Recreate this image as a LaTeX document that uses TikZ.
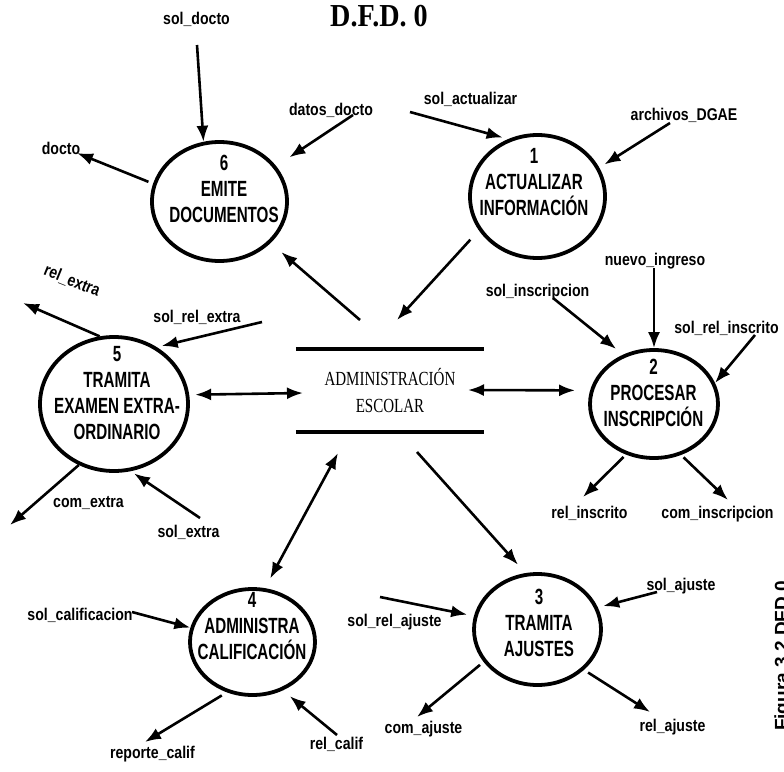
\documentclass[tikz,border=0pt]{standalone}
\usepackage{fontspec}
\usetikzlibrary{arrows.meta,shapes.geometric}

% Condensed faces for the process bubbles, the flow labels and the store
\newfontfamily\procfont[FakeStretch=0.69]{Liberation Sans}
\newfontfamily\flowfont[FakeStretch=0.83]{Liberation Sans}
\newfontfamily\storefont[FakeStretch=0.75]{Liberation Serif}
\newfontfamily\titlefont[FakeStretch=0.88]{Liberation Serif}
\newfontfamily\capfont{Liberation Sans}

\tikzset{
  process/.style={ellipse, draw, line width=3.8pt, inner sep=0pt},
  proctext/.style={align=center, inner sep=0pt,
    font=\procfont\bfseries\fontsize{22pt}{26pt}\selectfont},
  flowlabel/.style={inner sep=0pt, anchor=base,
    font=\flowfont\bfseries\fontsize{17pt}{19pt}\selectfont},
  flow/.style={line width=2.6pt, -{Latex[length=16pt,width=12pt]}},
  twoway/.style={line width=2.6pt, {Latex[length=16pt,width=12pt]}-{Latex[length=16pt,width=12pt]}},
  storebox/.style={align=center, inner sep=0pt, minimum width=188pt, minimum height=82.5pt,
    font=\storefont\fontsize{20pt}{27pt}\selectfont},
  storeline/.style={line width=4pt},
}

\begin{document}
\begin{tikzpicture}[x=1pt, y=-1pt]
\useasboundingbox (0,0) rectangle (784,771);
\clip (0,0) rectangle (784,771);

% Title
\node[font=\titlefont\bfseries\fontsize{32pt}{34pt}\selectfont, inner sep=0pt, anchor=base]
  (title) at (379,27) {D.F.D. 0};

% Processes
\node[process, minimum width=135pt, minimum height=123pt] (p1) at (537.5,196.5) {};
\node[proctext] (t1) at (534,182.5) {1\\ACTUALIZAR\\INFORMACIÓN};

\node[process, minimum width=128pt, minimum height=108pt] (p2) at (654,404) {};
\node[proctext] (t2) at (653.5,393) {2\\PROCESAR\\INSCRIPCIÓN};

\node[process, minimum width=127pt, minimum height=111pt] (p3) at (537.5,629.5) {};
\node[proctext] (t3) at (539,622.5) {3\\TRAMITA\\AJUSTES};

\node[process, minimum width=125pt, minimum height=106pt] (p4) at (252.5,642) {};
\node[proctext] (t4) at (252,626) {4\\ADMINISTRA\\CALIFICACIÓN};

\node[process, minimum width=148pt, minimum height=134pt] (p5) at (114,404) {};
\node[proctext] (t5) at (117,393.5) {5\\TRAMITA\\EXAMEN EXTRA-\\ORDINARIO};

\node[process, minimum width=135pt, minimum height=119pt] (p6) at (219.5,201.5) {};
\node[proctext] (t6) at (224,188.5) {6\\EMITE\\DOCUMENTOS};

% Data store
\node[storebox] (store) at (390,390.75) {ADMINISTRACIÓN\\ESCOLAR};
\draw[storeline] (store.north west) -- (store.north east);
\draw[storeline] (store.south west) -- (store.south east);

% Flow labels
\node[flowlabel] (l_soldocto) at (196.5,24) {sol\_docto};
\node[flowlabel] (l_datosdocto) at (331,115) {datos\_docto};
\node[flowlabel] (l_docto) at (61,154) {docto};
\node[flowlabel] (l_solact) at (470.5,104) {sol\_actualizar};
\node[flowlabel] (l_archivos) at (684,120) {archivos\_DGAE};
\node[flowlabel, anchor=center, rotate=-22] (l_relextra) at (72,281) {rel\_extra};
\node[flowlabel] (l_solrelextra) at (197,322) {sol\_rel\_extra};
\node[flowlabel] (l_comextra) at (88.5,507) {com\_extra};
\node[flowlabel] (l_solextra) at (188.5,537) {sol\_extra};
\node[flowlabel] (l_nuevo) at (655,265) {nuevo\_ingreso};
\node[flowlabel] (l_solinsc) at (537.5,296) {sol\_inscripcion};
\node[flowlabel] (l_solrelinsc) at (726.5,333) {sol\_rel\_inscrito};
\node[flowlabel] (l_relinsc) at (589.5,518) {rel\_inscrito};
\node[flowlabel] (l_cominsc) at (717.5,518) {com\_inscripcion};
\node[flowlabel] (l_solcalif) at (80,620) {sol\_calificacion};
\node[flowlabel] (l_reporte) at (152.5,758) {reporte\_calif};
\node[flowlabel] (l_relcalif) at (336.5,749) {rel\_calif};
\node[flowlabel] (l_solrelaj) at (394.5,626) {sol\_rel\_ajuste};
\node[flowlabel] (l_solaj) at (681,590) {sol\_ajuste};
\node[flowlabel] (l_comaj) at (423.5,733) {com\_ajuste};
\node[flowlabel] (l_relaj) at (672.5,731) {rel\_ajuste};

% Free ends of the flows
\coordinate (c_soldocto) at (197,45);
\coordinate (c_datosdocto) at (353,115);
\coordinate (c_docto) at (77,153);
\coordinate (c_st6) at (360,320);
\coordinate (c_solact) at (410,112);
\coordinate (c_archivos) at (670,123);
\coordinate (c_st1) at (397,320);
\coordinate (c_relextra) at (23,303);
\coordinate (c_solrelextra) at (262,322);
\coordinate (c_st5) at (303,393);
\coordinate (c_comextra) at (10,525);
\coordinate (c_solextra) at (200,518);
\coordinate (c_st2) at (468,390);
\coordinate (c_nuevo) at (654,268);
\coordinate (c_solinsc) at (553,298);
\coordinate (c_solrelinsc) at (755,335);
\coordinate (c_relinsc) at (583,497);
\coordinate (c_cominsc) at (728,500);
\coordinate (c_st4) at (338,453);
\coordinate (c_solcalif) at (132,612);
\coordinate (c_reporte) at (145,742);
\coordinate (c_relcalif) at (337,735);
\coordinate (c_st3) at (417,452);
\coordinate (c_solrelaj) at (380,597);
\coordinate (c_solaj) at (657,592);
\coordinate (c_comaj) at (417,717);
\coordinate (c_relaj) at (650,712);

% Process 6 flows
\draw[flow] (c_soldocto) -- (p6.105);
\draw[flow, shorten >=15.8pt] (c_datosdocto) -- (p6.32);
\draw[flow, shorten <=5pt] (p6.165) -- (c_docto);
\draw[flow, shorten >=14pt] (c_st6) -- (p6.321.5);

% Process 1 flows
\draw[flow, shorten >=5.8pt] (c_solact) -- (p1.117.5);
\draw[flow, shorten >=6pt] (c_archivos) -- (p1.25);
\draw[flow, shorten <=12.6pt] (p1.210.2) -- (c_st1);

% Process 5 flows
\draw[flow] (p5.102.9) -- (c_relextra);
\draw[flow, shorten >=5pt] (c_solrelextra) -- (p5.53);
\draw[twoway, shorten <=5.9pt] (p5.7.7) -- (c_st5);
\draw[flow] (p5.240.3) -- (c_comextra);
\draw[flow, shorten >=3.9pt] (c_solextra) -- (p5.284.2);

% Process 2 flows
\draw[twoway, shorten >=15pt] (c_st2) -- (p2.168.5);
\draw[flow] (c_nuevo) -- (p2.90);
\draw[flow, shorten >=9pt] (c_solinsc) -- (p2.122.3);
\draw[flow] (c_solrelinsc) -- (p2.19);
\draw[flow, shorten <=3.4pt] (p2.241.8) -- (c_relinsc);
\draw[flow, shorten <=3.4pt] (p2.298.2) -- (c_cominsc);

% Process 4 flows
\draw[twoway, shorten >=11pt] (c_st4) -- (p4.77.4);
\draw[flow] (c_solcalif) -- (p4.167.8);
\draw[flow, shorten <=5.9pt] (p4.243.8) -- (c_reporte);
\draw[flow, shorten >=9pt] (c_relcalif) -- (p4.302.4);

% Process 3 flows
\draw[flow, shorten >=11.2pt] (c_st3) -- (p3.102.1);
\draw[flow, shorten >=6.9pt] (c_solrelaj) -- (p3.168.4);
\draw[flow, shorten >=5.5pt] (c_solaj) -- (p3.20.5);
\draw[flow, shorten <=4.6pt] (p3.211.7) -- (c_comaj);
\draw[flow, shorten <=4.9pt] (p3.319.3) -- (c_relaj);

% Figure caption along the right edge
\node[font=\capfont\bfseries\fontsize{19pt}{21pt}\selectfont, inner sep=0pt,
  rotate=90, anchor=base] (caption) at (788,656) {Figura 3.2 DFD 0};
\end{tikzpicture}
\end{document}
